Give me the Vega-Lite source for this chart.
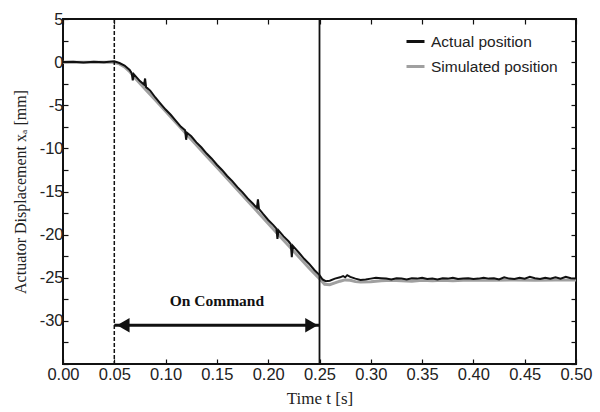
{
  "$schema": "https://vega.github.io/schema/vega-lite/v6.json",
  "width": 513,
  "height": 345,
  "autosize": {"type": "none"},
  "padding": {"left": 63, "top": 19, "right": 24, "bottom": 48},
  "background": "white",
  "config": {
    "view": {"stroke": "#111", "strokeWidth": 2},
    "axis": {
      "domain": false,
      "grid": false,
      "tickColor": "#111",
      "tickWidth": 1.2,
      "tickSize": -5,
      "labelFont": "Liberation Sans",
      "labelFontSize": 16.5,
      "labelColor": "#222",
      "titleFont": "Liberation Serif",
      "titleFontSize": 17,
      "titleFontWeight": "normal",
      "titleColor": "#222"
    }
  },
  "datasets": {
    "sim": [
      {"t": 0, "v": 0}, {"t": 0.045, "v": 0}, {"t": 0.05, "v": -0.05}, {"t": 0.055, "v": -0.2},
      {"t": 0.06, "v": -0.55}, {"t": 0.065, "v": -1.1}, {"t": 0.07, "v": -1.8}, {"t": 0.08, "v": -3.1},
      {"t": 0.09, "v": -4.4}, {"t": 0.10, "v": -5.7}, {"t": 0.11, "v": -7.0}, {"t": 0.12, "v": -8.3},
      {"t": 0.13, "v": -9.6}, {"t": 0.14, "v": -10.9}, {"t": 0.15, "v": -12.2}, {"t": 0.16, "v": -13.5},
      {"t": 0.17, "v": -14.8}, {"t": 0.18, "v": -16.1}, {"t": 0.19, "v": -17.4}, {"t": 0.20, "v": -18.7},
      {"t": 0.21, "v": -20.0}, {"t": 0.22, "v": -21.3}, {"t": 0.23, "v": -22.6}, {"t": 0.24, "v": -23.9},
      {"t": 0.25, "v": -25.1}, {"t": 0.255, "v": -25.75}, {"t": 0.26, "v": -25.8}, {"t": 0.265, "v": -25.6},
      {"t": 0.27, "v": -25.4}, {"t": 0.275, "v": -25.25}, {"t": 0.28, "v": -25.3}, {"t": 0.285, "v": -25.45},
      {"t": 0.29, "v": -25.5}, {"t": 0.30, "v": -25.45}, {"t": 0.31, "v": -25.35}, {"t": 0.32, "v": -25.3},
      {"t": 0.33, "v": -25.35}, {"t": 0.34, "v": -25.4}, {"t": 0.35, "v": -25.3}, {"t": 0.36, "v": -25.35},
      {"t": 0.37, "v": -25.3}, {"t": 0.38, "v": -25.35}, {"t": 0.39, "v": -25.3}, {"t": 0.40, "v": -25.3},
      {"t": 0.42, "v": -25.3}, {"t": 0.44, "v": -25.25}, {"t": 0.46, "v": -25.3}, {"t": 0.48, "v": -25.25},
      {"t": 0.50, "v": -25.25}
    ],
    "act": [
      {"t": 0, "v": 0}, {"t": 0.01, "v": 0.05}, {"t": 0.02, "v": -0.05}, {"t": 0.03, "v": 0.05},
      {"t": 0.04, "v": 0}, {"t": 0.045, "v": 0.05}, {"t": 0.05, "v": 0.1}, {"t": 0.055, "v": -0.1},
      {"t": 0.06, "v": -0.4}, {"t": 0.065, "v": -0.9}, {"t": 0.067, "v": -1.3}, {"t": 0.068, "v": -2.1},
      {"t": 0.069, "v": -1.4}, {"t": 0.075, "v": -2.2}, {"t": 0.079, "v": -2.6}, {"t": 0.08, "v": -1.9},
      {"t": 0.081, "v": -2.9}, {"t": 0.085, "v": -3.3}, {"t": 0.09, "v": -4.1}, {"t": 0.095, "v": -4.8},
      {"t": 0.10, "v": -5.5}, {"t": 0.105, "v": -6.1}, {"t": 0.11, "v": -6.8}, {"t": 0.115, "v": -7.5},
      {"t": 0.119, "v": -7.9}, {"t": 0.12, "v": -9.0}, {"t": 0.121, "v": -8.2}, {"t": 0.125, "v": -8.6},
      {"t": 0.13, "v": -9.3}, {"t": 0.135, "v": -9.9}, {"t": 0.14, "v": -10.6}, {"t": 0.145, "v": -11.2},
      {"t": 0.15, "v": -11.9}, {"t": 0.155, "v": -12.5}, {"t": 0.16, "v": -13.2}, {"t": 0.165, "v": -13.8},
      {"t": 0.17, "v": -14.5}, {"t": 0.175, "v": -15.1}, {"t": 0.18, "v": -15.8}, {"t": 0.185, "v": -16.4},
      {"t": 0.189, "v": -16.9}, {"t": 0.19, "v": -15.9}, {"t": 0.191, "v": -17.0}, {"t": 0.195, "v": -17.6},
      {"t": 0.20, "v": -18.3}, {"t": 0.205, "v": -18.9}, {"t": 0.208, "v": -19.3}, {"t": 0.209, "v": -20.5},
      {"t": 0.21, "v": -19.5}, {"t": 0.215, "v": -20.2}, {"t": 0.22, "v": -20.8}, {"t": 0.222, "v": -21.1},
      {"t": 0.223, "v": -22.6}, {"t": 0.224, "v": -21.3}, {"t": 0.23, "v": -22.1}, {"t": 0.235, "v": -22.8},
      {"t": 0.24, "v": -23.4}, {"t": 0.245, "v": -24.1}, {"t": 0.25, "v": -24.7}, {"t": 0.253, "v": -25.2},
      {"t": 0.256, "v": -25.4}, {"t": 0.26, "v": -25.35}, {"t": 0.265, "v": -25.1}, {"t": 0.27, "v": -24.95},
      {"t": 0.273, "v": -24.8}, {"t": 0.275, "v": -24.95}, {"t": 0.277, "v": -24.7}, {"t": 0.28, "v": -24.9},
      {"t": 0.285, "v": -25.1}, {"t": 0.29, "v": -25.25}, {"t": 0.295, "v": -25.2}, {"t": 0.30, "v": -25.1},
      {"t": 0.305, "v": -25.0}, {"t": 0.31, "v": -25.05}, {"t": 0.315, "v": -25.1}, {"t": 0.32, "v": -25.2},
      {"t": 0.325, "v": -25.05}, {"t": 0.33, "v": -25.1}, {"t": 0.335, "v": -25.2}, {"t": 0.34, "v": -25.05},
      {"t": 0.345, "v": -25.1}, {"t": 0.35, "v": -25.0}, {"t": 0.355, "v": -25.15}, {"t": 0.36, "v": -25.1},
      {"t": 0.365, "v": -25.2}, {"t": 0.37, "v": -25.05}, {"t": 0.375, "v": -25.1}, {"t": 0.38, "v": -25.0},
      {"t": 0.385, "v": -25.15}, {"t": 0.39, "v": -25.1}, {"t": 0.395, "v": -25.05}, {"t": 0.40, "v": -25.15},
      {"t": 0.405, "v": -25.1}, {"t": 0.41, "v": -25.0}, {"t": 0.415, "v": -25.1}, {"t": 0.42, "v": -25.05},
      {"t": 0.425, "v": -25.2}, {"t": 0.43, "v": -24.95}, {"t": 0.435, "v": -25.1}, {"t": 0.44, "v": -25.15},
      {"t": 0.445, "v": -25.0}, {"t": 0.45, "v": -25.1}, {"t": 0.455, "v": -24.9}, {"t": 0.46, "v": -25.05},
      {"t": 0.465, "v": -25.15}, {"t": 0.47, "v": -25.0}, {"t": 0.475, "v": -25.1}, {"t": 0.48, "v": -24.95},
      {"t": 0.485, "v": -25.1}, {"t": 0.49, "v": -24.9}, {"t": 0.495, "v": -25.05}, {"t": 0.50, "v": -25.1}
    ],
    "arrow": [{"t1": 0.05, "t2": 0.25, "y": -30.5, "label": "On Command", "tm": 0.15, "ty": -27.7}]
  },
  "layer": [
    {
      "data": {"name": "sim"},
      "transform": [{"calculate": "'Simulated position'", "as": "series"}],
      "mark": {"type": "line", "strokeWidth": 3, "clip": true},
      "encoding": {
        "x": {"field": "t", "type": "quantitative", "scale": {"domain": [0, 0.5], "nice": false},
          "axis": {"values": [0, 0.05, 0.1, 0.15, 0.2, 0.25, 0.3, 0.35, 0.4, 0.45, 0.5], "format": ".2f", "labelPadding": 7, "title": "Time  t [s]", "titlePadding": 8, "labelFlush": false}},
        "y": {"field": "v", "type": "quantitative", "scale": {"domain": [-35, 5], "nice": false},
          "axis": {"values": [-35, -32.5, -30, -27.5, -25, -22.5, -20, -17.5, -15, -12.5, -10, -7.5, -5, -2.5, 0, 2.5, 5],
            "labelExpr": "(datum.value % 5 == 0 && datum.value > -35) ? replace(datum.label, '−', '-') : ''", "labelPadding": 5, "title": "Actuator Displacement  xₐ [mm]", "titleFontSize": 16, "titlePadding": 11, "labelFlush": false}},
        "color": {"field": "series", "type": "nominal",
          "scale": {"domain": ["Actual position", "Simulated position"], "range": ["#111111", "#a0a0a0"]},
          "legend": {"orient": "none", "legendX": 342, "legendY": 12, "title": null, "padding": 0,
            "symbolType": "stroke", "symbolSize": 324, "symbolStrokeWidth": 3, "labelFont": "Liberation Sans",
            "labelFontSize": 15.5, "labelColor": "#222", "labelOffset": 5, "rowPadding": 6}}
      }
    },
    {
      "data": {"name": "act"},
      "transform": [{"calculate": "'Actual position'", "as": "series"}],
      "mark": {"type": "line", "strokeWidth": 2, "clip": true},
      "encoding": {
        "x": {"field": "t", "type": "quantitative",
          "axis": {"orient": "top", "values": [0, 0.05, 0.1, 0.15, 0.2, 0.25, 0.3, 0.35, 0.4, 0.45, 0.5], "labels": false, "title": null}},
        "y": {"field": "v", "type": "quantitative",
          "axis": {"orient": "right", "values": [-35, -32.5, -30, -27.5, -25, -22.5, -20, -17.5, -15, -12.5, -10, -7.5, -5, -2.5, 0, 2.5, 5], "labels": false, "title": null}},
        "color": {"field": "series", "type": "nominal"}
      }
    },
    {
      "data": {"values": [{"t": 0.05}]},
      "mark": {"type": "rule", "strokeDash": [4, 2], "strokeWidth": 1.5, "color": "#111"},
      "encoding": {"x": {"field": "t", "type": "quantitative", "axis": null}}
    },
    {
      "data": {"values": [{"t": 0.25}]},
      "mark": {"type": "rule", "strokeWidth": 1.8, "color": "#111"},
      "encoding": {"x": {"field": "t", "type": "quantitative", "axis": null}}
    },
    {
      "data": {"name": "arrow"},
      "mark": {"type": "rule", "strokeWidth": 3, "color": "#111"},
      "encoding": {
        "x": {"field": "t1", "type": "quantitative", "axis": null},
        "x2": {"field": "t2"},
        "y": {"field": "y", "type": "quantitative", "axis": null}
      }
    },
    {
      "data": {"name": "arrow"},
      "mark": {"type": "point", "shape": "triangle-left", "filled": true, "size": 210, "color": "#111", "opacity": 1, "xOffset": 9},
      "encoding": {
        "x": {"field": "t1", "type": "quantitative", "axis": null},
        "y": {"field": "y", "type": "quantitative", "axis": null}
      }
    },
    {
      "data": {"name": "arrow"},
      "mark": {"type": "point", "shape": "triangle-right", "filled": true, "size": 210, "color": "#111", "opacity": 1, "xOffset": -8},
      "encoding": {
        "x": {"field": "t2", "type": "quantitative", "axis": null},
        "y": {"field": "y", "type": "quantitative", "axis": null}
      }
    },
    {
      "data": {"name": "arrow"},
      "mark": {"type": "text", "font": "Liberation Serif", "fontSize": 15.5, "fontWeight": "bold", "color": "#111"},
      "encoding": {
        "x": {"field": "tm", "type": "quantitative", "axis": null},
        "y": {"field": "ty", "type": "quantitative", "axis": null},
        "text": {"field": "label"}
      }
    }
  ],
  "resolve": {"axis": {"x": "independent", "y": "independent"}}
}
